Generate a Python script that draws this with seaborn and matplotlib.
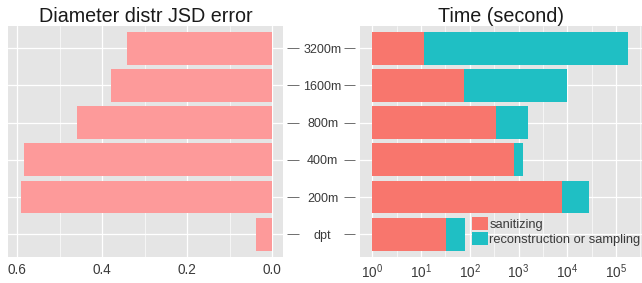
import numpy as np
import pandas as pd
import matplotlib
matplotlib.use("Agg")
import matplotlib.pyplot as plt
import seaborn as sns
from matplotlib.ticker import FixedLocator

# ---- data ----
categories = ["3200m", "1600m", "800m", "400m", "200m", "dpt"]
jsd_error = [0.342, 0.380, 0.459, 0.583, 0.591, 0.039]
sanitizing_sec = [11.7, 76.4, 342, 813, 7745, 32.6]
total_sec = [180700, 10090, 1596, 1245, 27730, 81.3]
jsd_ticks = [0.6, 0.4, 0.2, 0.0]
jsd_tick_labels = ["0.6", "0.4", "0.2", "0.0"]
time_decades = [0, 1, 2, 3, 4, 5]
series_labels = ["sanitizing", "reconstruction or sampling"]
title_left = "Diameter distr JSD error"
title_right = "Time (second)"

# ---- style ----
sns.set_theme(style="white")
plt.rcParams["font.family"] = ["Liberation Sans", "DejaVu Sans"]
plt.rcParams["mathtext.fontset"] = "custom"
plt.rcParams["mathtext.rm"] = "Liberation Sans"
plt.rcParams["mathtext.it"] = "Liberation Sans"
plt.rcParams["mathtext.default"] = "regular"

PANEL = "#E5E5E5"
PINK = "#FD9A9A"
RED = "#F8766D"
CYAN = "#1FBFC4"
TXT = "#3A3A3A"
TICK = "#6E6E6E"
BAR_W = 0.88

df = pd.DataFrame({
    "cat": categories,
    "jsd": jsd_error,
    "log_san": np.log10(sanitizing_sec),
    "log_tot": np.log10(total_sec),
})

fig = plt.figure(figsize=(6.42, 2.83), dpi=100)
ax1 = fig.add_axes([8 / 642, 1 - 256.5 / 283, (283 - 8) / 642, (256.5 - 26) / 283])
ax2 = fig.add_axes([360 / 642, 1 - 256.5 / 283, (641.8 - 360) / 642, (256.5 - 26) / 283])

# ---- left panel ----
sns.barplot(data=df, x="jsd", y="cat", order=categories, color=PINK,
            saturation=1, width=BAR_W, ax=ax1, orient="h", errorbar=None,
            linewidth=0)
ax1.set_xlim(0.621, -0.025)
ax1.set_ylim(len(categories) - 0.4, -0.6)

# ---- right panel ----
sns.barplot(data=df, x="log_tot", y="cat", order=categories, color=CYAN,
            saturation=1, width=BAR_W, ax=ax2, orient="h", errorbar=None,
            linewidth=0, label=series_labels[1])
sns.barplot(data=df, x="log_san", y="cat", order=categories, color=RED,
            saturation=1, width=BAR_W, ax=ax2, orient="h", errorbar=None,
            linewidth=0, label=series_labels[0])
ax2.set_xlim(-0.253, 5.53)
ax2.set_ylim(len(categories) - 0.4, -0.6)

for ax in (ax1, ax2):
    ax.set_facecolor(PANEL)
    for s in ax.spines.values():
        s.set_visible(False)
    ax.set_xlabel("")
    ax.set_ylabel("")
    ax.set_axisbelow(True)
    ax.grid(True, which="major", color="white", linewidth=0.9)
    ax.grid(True, which="minor", axis="x", color="white", linewidth=0.45)
    ax.tick_params(axis="x", which="major", direction="out", length=2.9,
                   width=0.7, color=TICK, labelsize=9.8, labelcolor=TXT, pad=1.5)
    ax.tick_params(axis="x", which="minor", length=0)

ax1.xaxis.set_major_locator(FixedLocator(jsd_ticks))
ax1.set_xticklabels(jsd_tick_labels)
ax1.xaxis.set_minor_locator(FixedLocator([0.5, 0.3, 0.1]))

ax2.xaxis.set_major_locator(FixedLocator(time_decades))
ax2.set_xticklabels([f"$10^{{{d}}}$" for d in time_decades])
ax2.xaxis.set_minor_locator(FixedLocator([d + 0.5 for d in time_decades]))

# category labels in the middle, ticks on both sides
ax1.yaxis.tick_right()
ax1.spines["right"].set_position(("outward", 2.9))
ax1.tick_params(axis="y", direction="out", length=8.6, width=0.7, color=TICK,
                labelsize=9, labelcolor=TXT, pad=17.0)
for lbl in ax1.get_yticklabels():
    lbl.set_horizontalalignment("center")

ax2.yaxis.tick_left()
ax2.spines["left"].set_position(("outward", 3.6))
ax2.tick_params(axis="y", direction="out", length=8.0, width=0.7, color=TICK,
                labelleft=False)

ax1.set_title(title_left, fontsize=14.2, color="#1A1A1A", pad=3)
ax2.set_title(title_right, fontsize=14.2, color="#1A1A1A", pad=3)

handles, labels = ax2.get_legend_handles_labels()
leg = ax2.legend(handles[::-1], labels[::-1], loc="upper left",
                 bbox_to_anchor=(0.3976, 0.172), frameon=False,
                 fontsize=9.3, handlelength=1.2, handleheight=1.2,
                 handletextpad=0.15, labelspacing=0.1, borderpad=0,
                 borderaxespad=0)
for t in leg.get_texts():
    t.set_color(TXT)

fig.savefig("out.png", dpi=100)
